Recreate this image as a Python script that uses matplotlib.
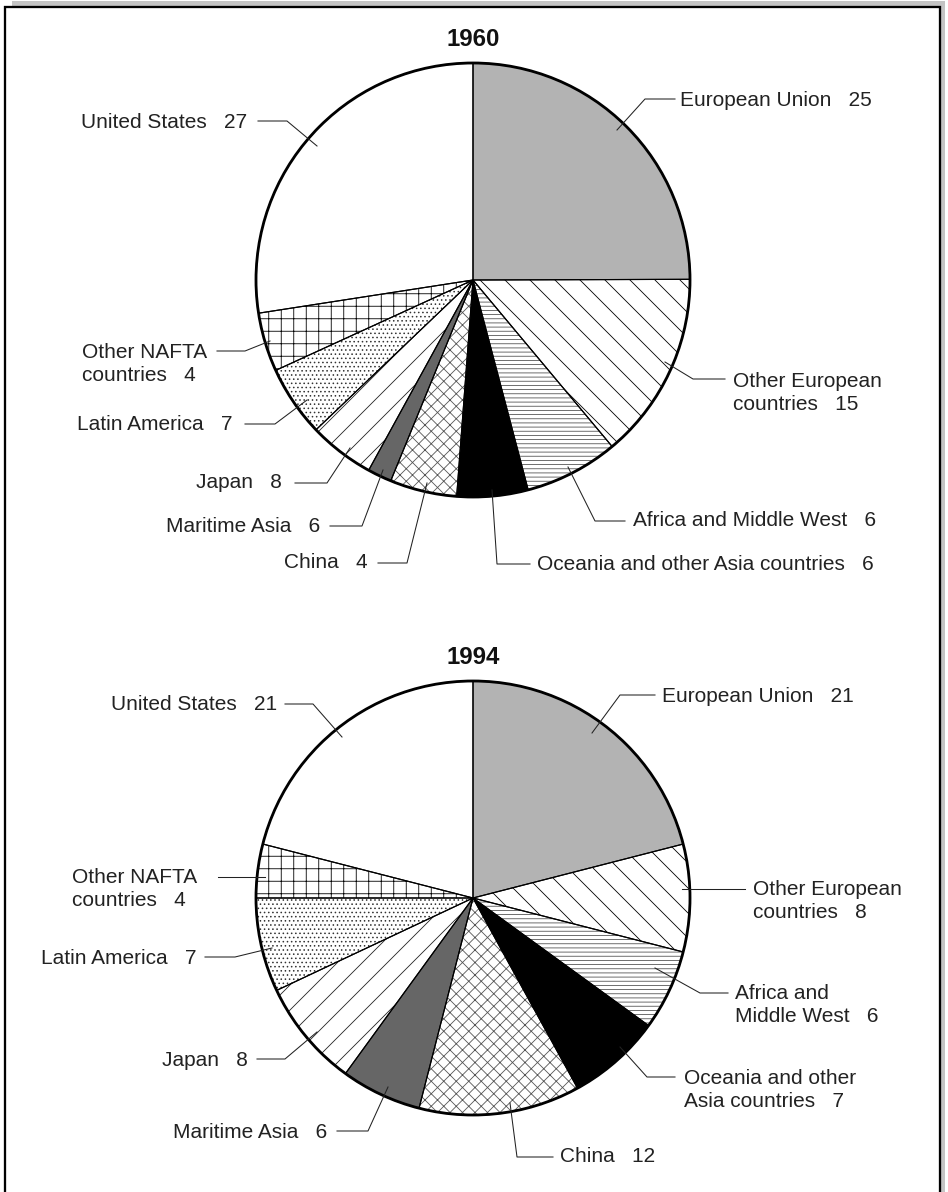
import matplotlib
import matplotlib.pyplot as plt
from matplotlib.patches import Rectangle, Circle
matplotlib.use('Agg')

# regions, clockwise from 12 o'clock
regions_1960 = ["European Union", "Other European\ncountries", "Africa and Middle West",
                "Oceania and other Asia countries", "China", "Maritime Asia", "Japan",
                "Latin America", "Other NAFTA\ncountries", "United States"]
values_1960 = [25, 15, 6, 6, 4, 6, 8, 7, 4, 27]
# slice sizes as drawn in the original (they do not follow the printed values)
shares_1960 = [25, 14, 7, 5.3, 5, 1.8, 4.9, 5.3, 4.4, 27.5]

regions_1994 = ["European Union", "Other European\ncountries", "Africa and\nMiddle West",
                "Oceania and other\nAsia countries", "China", "Maritime Asia", "Japan",
                "Latin America", "Other NAFTA\ncountries", "United States"]
values_1994 = [21, 8, 6, 7, 12, 6, 8, 7, 4, 21]
shares_1994 = values_1994

face_colors = ['#b3b3b3', 'white', 'white', 'black', 'white', '#666666',
               'white', 'white', 'white', 'white']
hatches = ['', '\\', '---', '', 'xx', '', '/', '...', '+', '']
hatch_colors = ['#b3b3b3', 'black', '#555555', 'black', '#555555', '#666666',
                '#222222', '#333333', 'black', 'white']

W, H = 948, 1192
R = 217


def Y(y):
    return H - y


# label layout: text position, alignment, leader points (text side -> slice)
layout_1960 = [
    ((680, 100), 'left', [(675, 99), (645, 99), (617, 130)]),
    ((733, 393), 'left', [(725, 379), (693, 379), (665, 362)]),
    ((633, 521), 'left', [(625, 521), (595, 521), (568, 467)]),
    ((537, 564), 'left', [(530, 564), (497, 564), (492, 490)]),
    ((368, 563), 'right', [(378, 563), (407, 563), (427, 483)]),
    ((320, 526), 'right', [(330, 526), (362, 526), (383, 470)]),
    ((282, 483), 'right', [(295, 483), (327, 483), (350, 448)]),
    ((233, 424), 'right', [(245, 424), (275, 424), (307, 400)]),
    ((82, 364), 'left', [(217, 351), (245, 351), (270, 341)]),
    ((247, 122), 'right', [(258, 121), (287, 121), (317, 146)]),
]
layout_1994 = [
    ((662, 697), 'left', [(655, 695), (620, 695), (592, 733)]),
    ((753, 901), 'left', [(745, 889), (682, 889)]),
    ((735, 1005), 'left', [(728, 993), (700, 993), (655, 968)]),
    ((684, 1090), 'left', [(675, 1077), (647, 1077), (620, 1047)]),
    ((560, 1157), 'left', [(553, 1157), (517, 1157), (510, 1103)]),
    ((327, 1132), 'right', [(337, 1131), (368, 1131), (388, 1087)]),
    ((248, 1060), 'right', [(257, 1059), (285, 1059), (317, 1032)]),
    ((197, 958), 'right', [(205, 957), (235, 957), (272, 948)]),
    ((72, 889), 'left', [(218, 877), (265, 877)]),
    ((277, 705), 'right', [(285, 704), (313, 704), (342, 737)]),
]

plt.rcParams['font.family'] = ['Liberation Sans', 'DejaVu Sans']
plt.rcParams['hatch.linewidth'] = 0.8

fig = plt.figure(figsize=(W / 75, H / 75), dpi=75)
ax = fig.add_axes([0, 0, 1, 1])

# frame with drop shadow
ax.add_patch(Rectangle((12, Y(H + 10)), W - 15, H + 10 - 1, facecolor='#c4c4c4',
                       edgecolor='none', zorder=0))
ax.add_patch(Rectangle((5, Y(H + 10)), W - 13, H + 10 - 7, facecolor='white',
                       edgecolor='black', linewidth=2.2, zorder=1))


def draw_pie(shares, values, names, center, title, layout):
    cx, cy = center
    wedges, _ = ax.pie(shares, center=(cx, Y(cy)), radius=R, startangle=90,
                       counterclock=False, colors=face_colors, frame=True,
                       wedgeprops=dict(linewidth=0))
    for w, h, hc in zip(wedges, hatches, hatch_colors):
        w.set_hatch(h)
        w.set_edgecolor(hc)
        w.set_linewidth(0)
        w.set_zorder(2)
    outl, _ = ax.pie(shares, center=(cx, Y(cy)), radius=R, startangle=90,
                     counterclock=False, frame=True,
                     wedgeprops=dict(fill=False, linewidth=1.1, edgecolor='black'))
    for w in outl:
        w.set_zorder(3)
    ax.add_patch(Circle((cx, Y(cy)), R, fill=False, linewidth=2.7,
                        edgecolor='black', zorder=4))
    ax.text(cx, Y(cy - 240), title, ha='center', va='center', fontsize=23,
            fontweight='bold', color='#111111')
    for name, val, (pos, ha, pts) in zip(names, values, layout):
        ax.text(pos[0], Y(pos[1]), f"{name}   {val}", ha=ha, va='center',
                fontsize=20, color='#222222', linespacing=1.25, zorder=5)
        ax.plot([p[0] for p in pts], [Y(p[1]) for p in pts], color='#222222',
                linewidth=1.0, zorder=5)


draw_pie(shares_1960, values_1960, regions_1960, (473, 280), '1960', layout_1960)
draw_pie(shares_1994, values_1994, regions_1994, (473, 898), '1994', layout_1994)

ax.set_xlim(0, W)
ax.set_ylim(0, H)
ax.set_aspect('auto')
ax.axis('off')

plt.savefig('out.png', dpi=75)
plt.close()
